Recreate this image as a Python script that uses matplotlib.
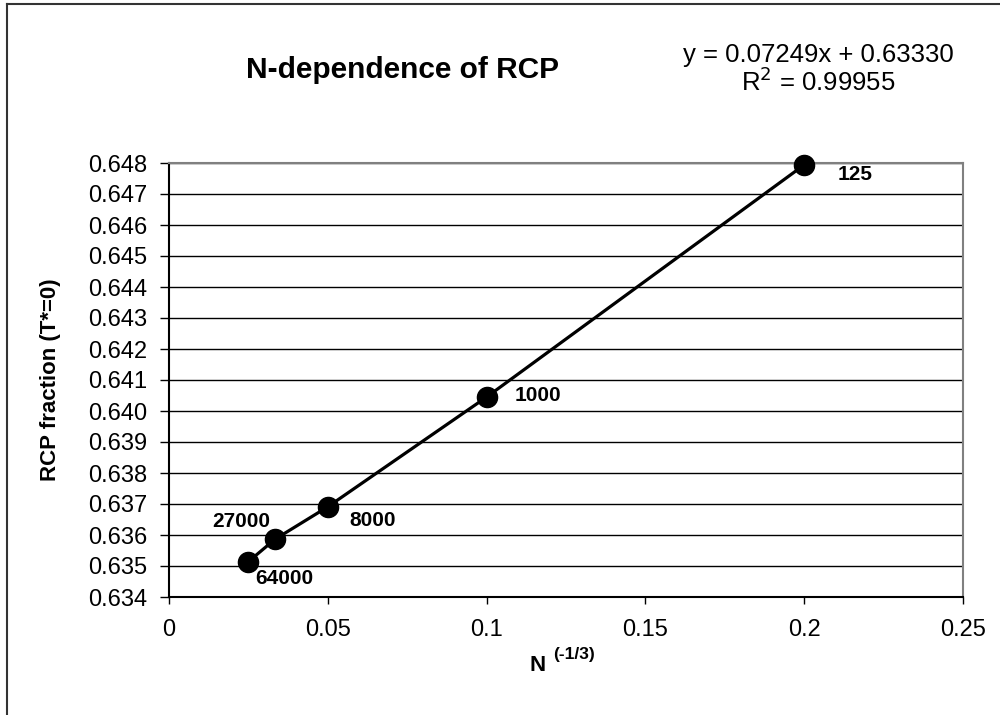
import matplotlib
matplotlib.use("Agg")
import matplotlib.pyplot as plt
from matplotlib.lines import Line2D

plt.rcParams['font.family'] = ['Liberation Sans', 'DejaVu Sans']

# data
n_values = [125, 1000, 8000, 27000, 64000]
x_vals = [0.2, 0.1, 0.05, 0.03333, 0.025]
rcp_fraction = [0.64794, 0.64045, 0.63691, 0.63586, 0.63514]
point_labels = ['125', '1000', '8000', '27000', '64000']
label_offsets = [(37, -7), (37, 1), (32, -10), (-24.5, 13), (26, -12)]
x_ticks = [0, 0.05, 0.1, 0.15, 0.2, 0.25]
x_tick_labels = ['0', '0.05', '0.1', '0.15', '0.2', '0.25']
y_ticks = [0.634 + 0.001 * i for i in range(15)]
y_tick_labels = ['%.3f' % v for v in y_ticks]

fig = plt.figure(figsize=(10, 7.15), dpi=100)
ax = fig.add_axes([0.169, 1 - 597 / 715, 0.794, (597 - 163) / 715])

ax.plot(x_vals, rcp_fraction, color='black', lw=2.3, marker='o', ms=14.5,
        markerfacecolor='black', markeredgecolor='black', zorder=3, clip_on=False)

for xv, yv, lab, off in zip(x_vals, rcp_fraction, point_labels, label_offsets):
    ax.annotate(lab, (xv, yv), xytext=off, textcoords='offset points',
                ha='center', va='center', fontsize=15, fontweight='bold')

ax.set_xlim(0, 0.25)
ax.set_ylim(0.634, 0.648)
ax.set_xticks(x_ticks)
ax.set_xticklabels(x_tick_labels)
ax.set_yticks(y_ticks)
ax.set_yticklabels(y_tick_labels)
ax.tick_params(axis='both', labelsize=17, direction='out', width=1, color='black')
ax.tick_params(axis='x', length=5, pad=11)
ax.tick_params(axis='y', length=6.5, pad=9)
ax.yaxis.grid(True, color='black', lw=1)
ax.set_axisbelow(True)
for s in ['top', 'right']:
    ax.spines[s].set_color('#808080')
    ax.spines[s].set_linewidth(1.5)
for s in ['left', 'bottom']:
    ax.spines[s].set_color('black')
    ax.spines[s].set_linewidth(1.5)

fig.text(0.051, 1 - 380 / 715, 'RCP fraction (T*=0)', fontsize=16, fontweight='bold',
         rotation=90, ha='center', va='center')
# x-axis label: N with superscript (-1/3)
fig.text(0.546, 1 - 671 / 715, 'N', fontsize=16, fontweight='bold', ha='right', va='baseline')
fig.text(0.553, 1 - 659 / 715, '(-1/3)', fontsize=12.5, fontweight='bold', ha='left', va='baseline')

fig.text(0.402, 1 - 70 / 715, 'N-dependence of RCP', fontsize=21.5, fontweight='bold',
         ha='center', va='center')
fig.text(0.818, 1 - 55 / 715, 'y = 0.07249x + 0.63330', fontsize=18.5, ha='center', va='center')
fig.text(0.818, 1 - 82 / 715, r'R$^2$ = 0.99955', fontsize=18.5, ha='center', va='center')

# outer chart frame (cropped at right and bottom)
fig.add_artist(Line2D([0.007, 0.007], [0, 0.994], color='#333333', lw=1.5, transform=fig.transFigure))
fig.add_artist(Line2D([0.007, 1.0], [0.994, 0.994], color='#333333', lw=1.5, transform=fig.transFigure))

fig.savefig('out.png', dpi=100, facecolor='white')
